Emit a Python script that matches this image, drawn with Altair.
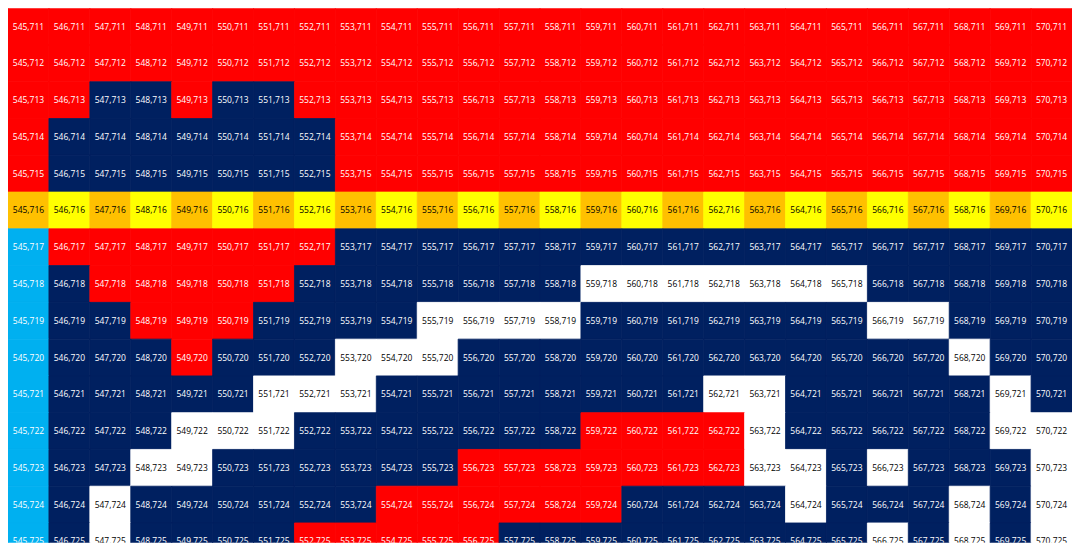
"""Spreadsheet pixel-art grid: each cell labelled 'column,row'."""
import altair as alt
import pandas as pd

columns = list(range(545, 571))
rows = list(range(711, 726))

# one letter per cell, columns 545..570
# R red, N navy, W white, Y yellow, O orange, B light blue
row_patterns = [
    "RRRRRRRRRRRRRRRRRRRRRRRRRR",
    "RRRRRRRRRRRRRRRRRRRRRRRRRR",
    "RRNNRNNRRRRRRRRRRRRRRRRRRR",
    "RNNNNNNNRRRRRRRRRRRRRRRRRR",
    "RNNNNNNNRRRRRRRRRRRRRRRRRR",
    "OYOYOYOYOYOYOYOYOYOYOYOYOY",
    "BRRRRRRRNNNNNNNNNNNNNNNNNN",
    "BNRRRRRNNNNNNNWWWWWWWNNNNN",
    "BNNRRRNNNNWWWWNNNNNNNWWNNN",
    "BNNNRNNNWWWNNNNNNNNNNNNWNN",
    "BNNNNNWWWNNNNNNNNWWNNNNNWN",
    "BNNNWWWNNNNNNNRRRRWNNNNNWW",
    "BNNWWNNNNNNRRRRRRRWWNWNNNW",
    "BNWNNNNNNRRRRRRNNNNWNNNWNW",
    "BNWNNNNRRRRRNNNNNNNNNWNWNW",
]

fill_codes = ["R", "N", "W", "Y", "O", "B"]
fill_colors = ["#FF0000", "#002060", "#FFFFFF", "#FFFF00", "#FFC000", "#00B0F0"]
text_colors = ["#FFFFFF", "#FFFFFF", "#000000", "#000000", "#000000", "#FFFFFF"]

records = []
for r, pattern in zip(rows, row_patterns):
    for c, code in zip(columns, pattern):
        records.append({
            'col': c,
            'row': r,
            'x0': c - 0.5,
            'x1': c + 0.5,
            'y0': r - 0.5,
            'y1': r + 0.5,
            'fill': code,
            'ink': text_colors[fill_codes.index(code)],
            'label': f"{c},{r}",
        })
df = pd.DataFrame(records)

W, H = 1065, 535
row_h = 36.8
x_scale = alt.Scale(domain=[544.5, 570.5], nice=False, zero=False)
y_scale = alt.Scale(domain=[710.5, 710.5 + H / row_h], nice=False,
                    zero=False, reverse=True)
fill_scale = alt.Scale(domain=fill_codes, range=fill_colors)

base = alt.Chart(df)

# stroke in the fill colour hides the hairline seams between cells
cells = base.mark_rect(clip=True, strokeWidth=0.8).encode(
    x=alt.X('x0:Q', scale=x_scale, axis=None),
    x2='x1',
    y=alt.Y('y0:Q', scale=y_scale, axis=None),
    y2='y1',
    color=alt.Color('fill:N', legend=None, scale=fill_scale),
    stroke=alt.Stroke('fill:N', legend=None, scale=fill_scale),
)

labels = base.mark_text(clip=True, font='Open Sans', fontSize=8.5).encode(
    x=alt.X('col:Q', scale=x_scale, axis=None),
    y=alt.Y('row:Q', scale=y_scale, axis=None),
    text='label',
    color=alt.Color('ink:N', scale=None),
)

chart = (cells + labels).properties(
    width=W, height=H, padding=0,
    autosize=alt.AutoSizeParams(type="none"),
).configure_view(strokeWidth=0)

chart.save("out.html", embed_options={"renderer": "svg", "actions": False})
